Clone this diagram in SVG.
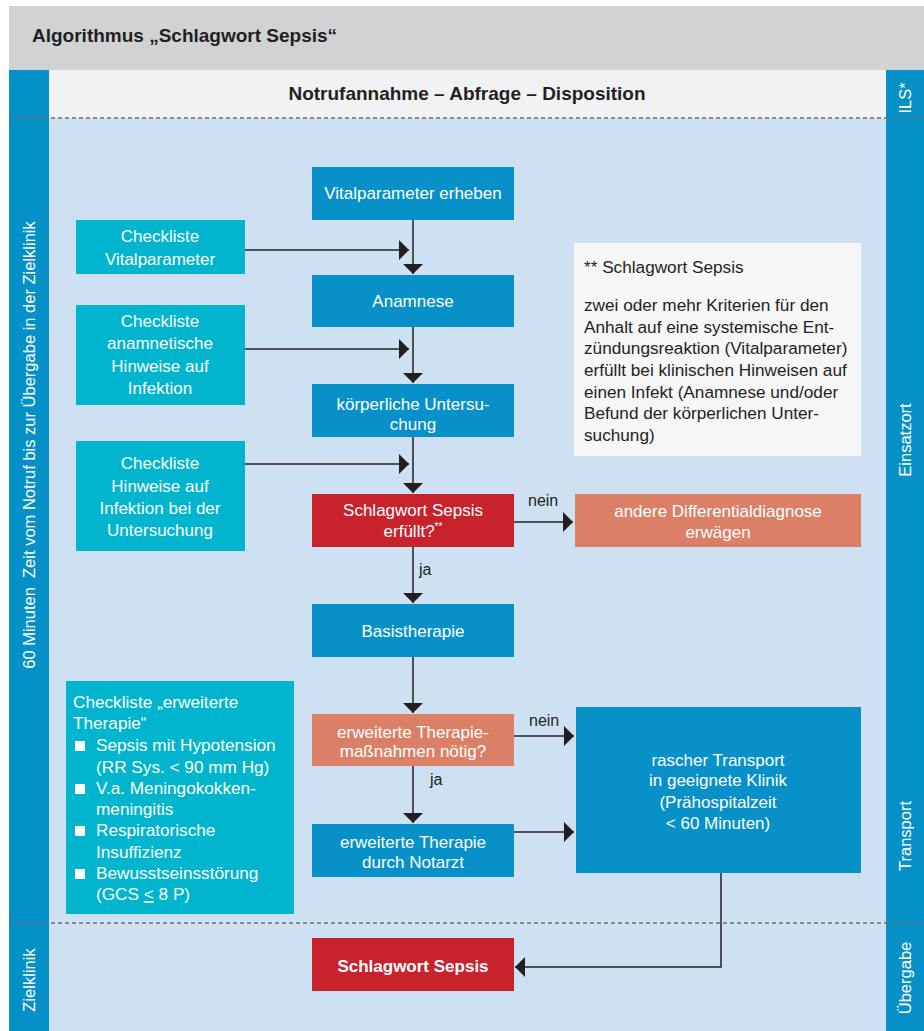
<svg xmlns="http://www.w3.org/2000/svg" width="924" height="1031" viewBox="0 0 924 1031">
<defs>
<style>
text{font-family:"Liberation Sans",Arial,sans-serif;}
.bx{fill:#0891c9;}
.cy{fill:#00b5cd;}
.rd{fill:#c8232c;}
.sa{fill:#db7f67;}
.wt{fill:#ffffff;font-size:17px;text-anchor:middle;}
.lt{fill:#ffffff;font-size:17.2px;}
.lg{fill:#231f20;font-size:17.2px;}
.lab{fill:#231f20;font-size:16px;}
.side{fill:#ffffff;font-size:16.5px;text-anchor:middle;}
.ln{stroke:#231f20;stroke-width:1.5;fill:none;}
.dash{stroke:#6d6e70;stroke-width:1.5;stroke-dasharray:4 3;fill:none;}
</style>
<marker id="ah" viewBox="0 0 10 20" markerWidth="10" markerHeight="20" refX="10" refY="10" orient="auto" markerUnits="userSpaceOnUse">
<path d="M0,0 L10,10 L0,20 Z" fill="#231f20"/>
</marker>
</defs>

<g id="background">
<rect x="0" y="0" width="924" height="1031" fill="#ffffff"/>
<rect x="9" y="6" width="915" height="64" fill="#d1d2d4"/>
<rect x="9" y="70" width="40" height="961" fill="#0590c8"/>
<rect x="886" y="70" width="38" height="961" fill="#0590c8"/>
<rect x="49" y="70" width="837" height="48" fill="#f1f2f4"/>
<rect x="49" y="118" width="837" height="913" fill="#cde1f2"/>
<line class="dash" x1="9" y1="118" x2="924" y2="118"/>
<line class="dash" x1="9" y1="923" x2="924" y2="923"/>
</g>

<g id="headers">
<text x="32" y="42" font-size="19" font-weight="bold" fill="#231f20">Algorithmus „Schlagwort Sepsis“</text>
<text x="467" y="100" font-size="19" font-weight="bold" fill="#231f20" text-anchor="middle">Notrufannahme – Abfrage – Disposition</text>
</g>

<g id="side-labels">
<text class="side" transform="translate(35,445) rotate(-90)" font-size="16.8">60 Minuten&#160; Zeit vom Notruf bis zur Übergabe in der Zielklinik</text>
<text class="side" transform="translate(35,980) rotate(-90)">Zielklinik</text>
<text class="side" transform="translate(911,98) rotate(-90)">ILS*</text>
<text class="side" transform="translate(911,440) rotate(-90)">Einsatzort</text>
<text class="side" transform="translate(911,836) rotate(-90)">Transport</text>
<text class="side" transform="translate(911,978) rotate(-90)">Übergabe</text>
</g>

<g id="connectors">
<line class="ln" x1="413" y1="220" x2="413" y2="274" marker-end="url(#ah)"/>
<line class="ln" x1="245" y1="250" x2="409" y2="250" marker-end="url(#ah)"/>
<line class="ln" x1="413" y1="327" x2="413" y2="383" marker-end="url(#ah)"/>
<line class="ln" x1="245" y1="349" x2="409" y2="349" marker-end="url(#ah)"/>
<line class="ln" x1="413" y1="437" x2="413" y2="493" marker-end="url(#ah)"/>
<line class="ln" x1="245" y1="464" x2="409" y2="464" marker-end="url(#ah)"/>
<line class="ln" x1="514" y1="522" x2="573" y2="522" marker-end="url(#ah)"/>
<line class="ln" x1="413" y1="547" x2="413" y2="603" marker-end="url(#ah)"/>
<line class="ln" x1="413" y1="657" x2="413" y2="713" marker-end="url(#ah)"/>
<line class="ln" x1="514" y1="736" x2="574" y2="736" marker-end="url(#ah)"/>
<line class="ln" x1="413" y1="766" x2="413" y2="823" marker-end="url(#ah)"/>
<line class="ln" x1="514" y1="832" x2="574" y2="832" marker-end="url(#ah)"/>
<polyline class="ln" points="721,873 721,967 515,967" marker-end="url(#ah)"/>
<text class="lab" x="528" y="506">nein</text>
<text class="lab" x="419" y="575">ja</text>
<text class="lab" x="529" y="726">nein</text>
<text class="lab" x="430" y="785">ja</text>
</g>

<g id="vitalparameter">
<rect class="bx" x="312" y="167" width="202" height="53"/>
<text class="wt" x="413" y="199">Vitalparameter erheben</text>
</g>

<g id="checkliste-vital">
<rect class="cy" x="76" y="220" width="169" height="54"/>
<text class="wt" x="160" y="242">Checkliste</text>
<text class="wt" x="160" y="265">Vitalparameter</text>
</g>

<g id="anamnese">
<rect class="bx" x="312" y="275" width="202" height="52"/>
<text class="wt" x="413" y="307">Anamnese</text>
</g>

<g id="checkliste-anamnese">
<rect class="cy" x="76" y="305" width="169" height="100"/>
<text class="wt" x="160" y="327">Checkliste</text>
<text class="wt" x="160" y="349">anamnetische</text>
<text class="wt" x="160" y="372">Hinweise auf</text>
<text class="wt" x="160" y="394">Infektion</text>
</g>

<g id="untersuchung">
<rect class="bx" x="312" y="384" width="202" height="53"/>
<text class="wt" x="413" y="410">körperliche Untersu-</text>
<text class="wt" x="413" y="430">chung</text>
</g>

<g id="checkliste-untersuchung">
<rect class="cy" x="76" y="441" width="169" height="110"/>
<text class="wt" x="160" y="469">Checkliste</text>
<text class="wt" x="160" y="492">Hinweise auf</text>
<text class="wt" x="160" y="514">Infektion bei der</text>
<text class="wt" x="160" y="536">Untersuchung</text>
</g>

<g id="sepsis-erfuellt">
<rect class="rd" x="312" y="494" width="202" height="53"/>
<text class="wt" x="413" y="516">Schlagwort Sepsis</text>
<text class="wt" x="413" y="537">erfüllt?<tspan font-size="10" dy="-7">**</tspan></text>
</g>

<g id="differentialdiagnose">
<rect class="sa" x="575" y="494" width="286" height="53"/>
<text class="wt" x="718" y="517">andere Differentialdiagnose</text>
<text class="wt" x="718" y="538">erwägen</text>
</g>

<g id="legende">
<rect x="574" y="243" width="287" height="213" fill="#f6f6f6"/>
<text class="lg" x="584" y="273">** Schlagwort Sepsis</text>
<text class="lg" x="584" y="311">zwei oder mehr Kriterien für den</text>
<text class="lg" x="584" y="333">Anhalt auf eine systemische Ent-</text>
<text class="lg" x="584" y="354">zündungsreaktion (Vitalparameter)</text>
<text class="lg" x="584" y="376">erfüllt bei klinischen Hinweisen auf</text>
<text class="lg" x="584" y="398">einen Infekt (Anamnese und/oder</text>
<text class="lg" x="584" y="419">Befund der körperlichen Unter-</text>
<text class="lg" x="584" y="441">suchung)</text>
</g>

<g id="basistherapie">
<rect class="bx" x="312" y="604" width="202" height="53"/>
<text class="wt" x="413" y="637">Basistherapie</text>
</g>

<g id="erweiterte-frage">
<rect class="sa" x="312" y="714" width="202" height="52"/>
<text class="wt" x="413" y="738">erweiterte Therapie-</text>
<text class="wt" x="413" y="757">maßnahmen nötig?</text>
</g>

<g id="notarzt">
<rect class="bx" x="312" y="824" width="202" height="53"/>
<text class="wt" x="413" y="848">erweiterte Therapie</text>
<text class="wt" x="413" y="868">durch Notarzt</text>
</g>

<g id="transport">
<rect class="bx" x="576" y="707" width="285" height="166"/>
<text class="wt" x="718" y="766">rascher Transport</text>
<text class="wt" x="718" y="786">in geeignete Klinik</text>
<text class="wt" x="718" y="808">(Prähospitalzeit</text>
<text class="wt" x="718" y="829">&lt; 60 Minuten)</text>
</g>

<g id="checkliste-erweitert">
<rect class="cy" x="66" y="681" width="228" height="233"/>
<text class="lt" x="73" y="708">Checkliste „erweiterte</text>
<text class="lt" x="73" y="729">Therapie“</text>
<rect x="75" y="741" width="10" height="10" fill="#ffffff"/>
<text class="lt" x="96" y="751">Sepsis mit Hypotension</text>
<text class="lt" x="96" y="773">(RR Sys. &lt; 90 mm Hg)</text>
<rect x="75" y="784" width="10" height="10" fill="#ffffff"/>
<text class="lt" x="96" y="794">V.a. Meningokokken-</text>
<text class="lt" x="96" y="815">meningitis</text>
<rect x="75" y="826" width="10" height="10" fill="#ffffff"/>
<text class="lt" x="96" y="836">Respiratorische</text>
<text class="lt" x="96" y="858">Insuffizienz</text>
<rect x="75" y="869" width="10" height="10" fill="#ffffff"/>
<text class="lt" x="96" y="879">Bewusstseinsstörung</text>
<text class="lt" x="96" y="900">(GCS <tspan text-decoration="underline">&lt;</tspan> 8 P)</text>
</g>

<g id="schlagwort-sepsis">
<rect class="rd" x="312" y="938" width="202" height="53"/>
<text class="wt" x="413" y="972" font-size="16" font-weight="bold">Schlagwort Sepsis</text>
</g>
</svg>
